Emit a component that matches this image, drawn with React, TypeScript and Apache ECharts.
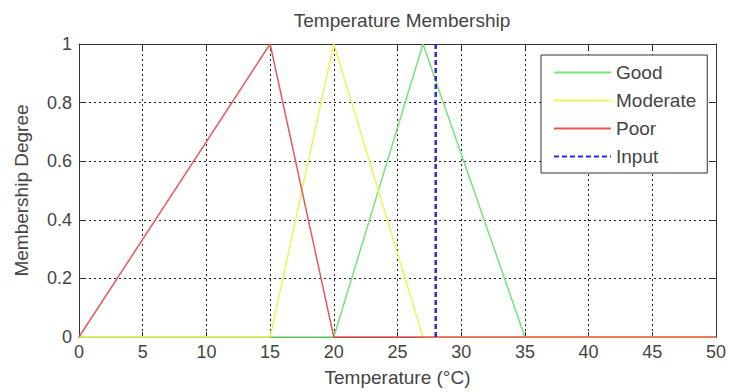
import React, { useEffect, useRef } from "react";
import * as echarts from "echarts";

const titleText = "Temperature Membership";
const xName = "Temperature (°C)";
const yName = "Membership Degree";

const goodX = [0, 20, 27, 35, 50];
const goodY = [0, 0, 1, 0, 0];
const moderateX = [0, 15, 20, 27, 50];
const moderateY = [0, 0, 1, 0, 0];
const poorX = [0, 15, 20, 50];
const poorY = [0, 1, 0, 0];
const inputX = [28, 28];
const inputY = [0, 1];

const zip = (xs: number[], ys: number[]) => xs.map((x, i) => [x, ys[i]]);

const FONT = "Liberation Sans, Arial, sans-serif";

export default function App() {
  const ref = useRef<HTMLDivElement>(null);
  useEffect(() => {
    if (!ref.current) return;
    const chart = echarts.init(ref.current, null, { renderer: "svg" });
    const gridLine = { show: true, lineStyle: { color: "#222", width: 1, type: [2, 3] as any } };
    const axisLine = { show: true, onZero: false, lineStyle: { color: "#333", width: 1 } };
    const tick = { show: true, inside: true, length: 5, lineStyle: { color: "#333" } };
    const lbl = { fontSize: 18, color: "#444", fontFamily: FONT };
    chart.setOption({
      animation: false,
      backgroundColor: "#fff",
      title: {
        text: titleText,
        left: 397,
        textAlign: "center",
        top: 6,
        textStyle: { fontSize: 19, fontWeight: "normal", color: "#444", fontFamily: FONT },
      },
      grid: { left: 79, right: 13, top: 44, bottom: 54, containLabel: false },
      legend: {
        orient: "vertical",
        left: 541,
        top: 55,
        padding: [8, 11, 7, 12],
        itemGap: 9,
        itemWidth: 57,
        itemHeight: 18,
        itemTextGap: 8,
        borderColor: "#333",
        borderWidth: 1,
        backgroundColor: "#fff",
        itemStyle: { opacity: 0 },
        textStyle: { fontSize: 19, lineHeight: 18, color: "#444", fontFamily: FONT },
        data: ["Good", "Moderate", "Poor", "Input"],
      },
      xAxis: [
        {
          type: "value",
          min: 0,
          max: 50,
          interval: 5,
          axisLine,
          axisTick: tick,
          axisLabel: { ...lbl, margin: 6 },
          splitLine: gridLine,
          name: xName,
          nameLocation: "middle",
          nameGap: 31,
          nameTextStyle: { fontSize: 19, color: "#444", fontFamily: FONT },
        },
        {
          type: "value",
          position: "top",
          min: 0,
          max: 50,
          interval: 5,
          axisLine,
          axisTick: tick,
          axisLabel: { show: false },
          splitLine: { show: false },
        },
      ],
      yAxis: [
        {
          type: "value",
          min: 0,
          max: 1,
          interval: 0.2,
          axisLine,
          axisTick: tick,
          axisLabel: { ...lbl, margin: 7 },
          splitLine: gridLine,
          name: yName,
          nameLocation: "middle",
          nameGap: 48,
          nameTextStyle: { fontSize: 19, color: "#444", fontFamily: FONT },
        },
        {
          type: "value",
          position: "right",
          min: 0,
          max: 1,
          interval: 0.2,
          axisLine,
          axisTick: tick,
          axisLabel: { show: false },
          splitLine: { show: false },
        },
      ],
      series: [
        {
          name: "Good",
          type: "line",
          data: zip(goodX, goodY),
          symbol: "none",
          clip: false,
          color: "#78e278",
          lineStyle: { color: "#78e278", width: 1.5 },
        },
        {
          name: "Moderate",
          type: "line",
          data: zip(moderateX, moderateY),
          symbol: "none",
          clip: false,
          color: "#f2f25a",
          lineStyle: { color: "#f2f25a", width: 1.5 },
        },
        {
          name: "Poor",
          type: "line",
          data: zip(poorX, poorY),
          symbol: "none",
          clip: false,
          color: "#e85a5a",
          lineStyle: { color: "#e85a5a", width: 1.5 },
        },
        {
          name: "Input",
          type: "line",
          data: zip(inputX, inputY),
          symbol: "none",
          clip: false,
          color: "#2a2ae0",
          lineStyle: { color: "#2a2ae0", width: 2.5, type: [5, 3] as any },
        },
      ],
    });
    return () => chart.dispose();
  }, []);
  return (
    <div
      ref={ref}
      style={{ position: "fixed", left: 0, top: 0, width: 729, height: 392 }}
    />
  );
}
